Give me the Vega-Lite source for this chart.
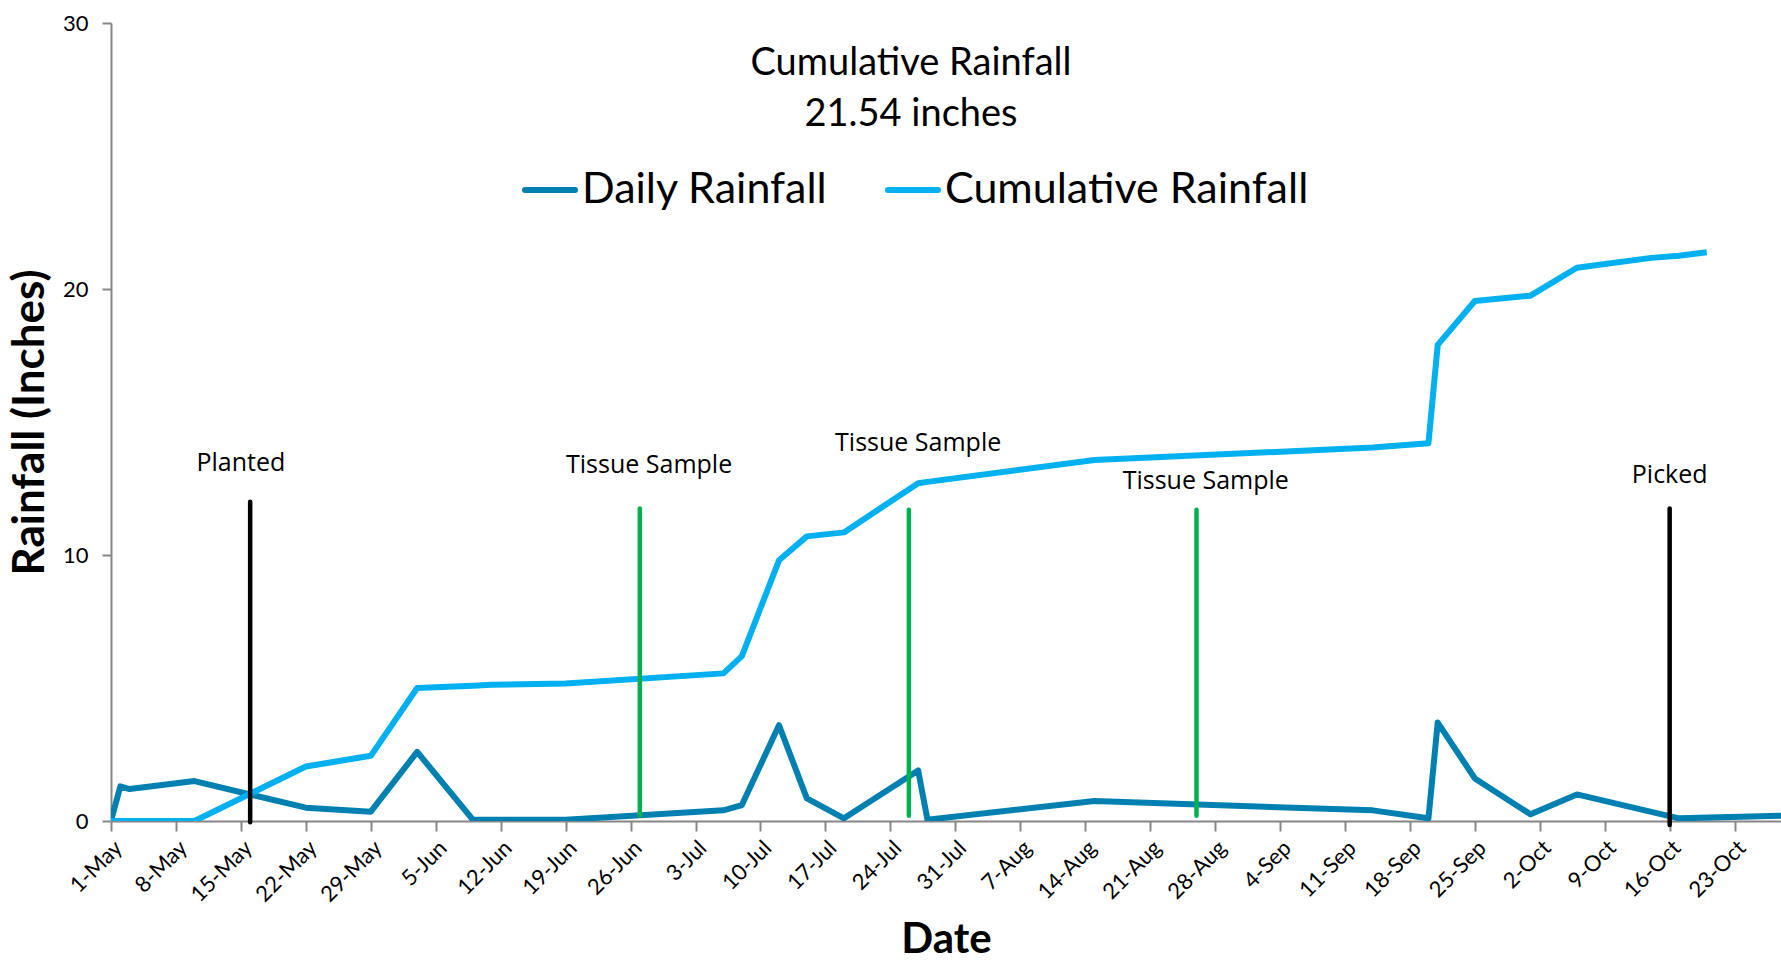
{
  "$schema": "https://vega.github.io/schema/vega-lite/v6.json",
  "width": 1670,
  "height": 798,
  "autosize": {"type": "none"},
  "padding": {"left": 111, "top": 23, "right": 0, "bottom": 146},
  "background": "white",
  "title": {
    "text": ["Cumulative Rainfall", "21.54 inches"],
    "font": "Lato",
    "fontSize": 38,
    "fontWeight": "normal",
    "color": "black",
    "anchor": "middle",
    "baseline": "top",
    "offset": 0,
    "dx": -35,
    "dy": 122,
    "lineHeight": 51
  },
  "config": {"view": {"stroke": null}, "font": "Lato"},
  "datasets": {
    "rain": [
      {"date": "2013-05-01", "series": "Daily Rainfall", "inches": 0},
      {"date": "2013-05-02", "series": "Daily Rainfall", "inches": 1.3},
      {"date": "2013-05-03", "series": "Daily Rainfall", "inches": 1.2},
      {"date": "2013-05-10", "series": "Daily Rainfall", "inches": 1.5},
      {"date": "2013-05-22", "series": "Daily Rainfall", "inches": 0.5},
      {"date": "2013-05-29", "series": "Daily Rainfall", "inches": 0.35},
      {"date": "2013-06-03", "series": "Daily Rainfall", "inches": 2.6},
      {"date": "2013-06-09", "series": "Daily Rainfall", "inches": 0.05},
      {"date": "2013-06-19", "series": "Daily Rainfall", "inches": 0.05},
      {"date": "2013-07-06", "series": "Daily Rainfall", "inches": 0.4},
      {"date": "2013-07-08", "series": "Daily Rainfall", "inches": 0.6},
      {"date": "2013-07-12", "series": "Daily Rainfall", "inches": 3.6},
      {"date": "2013-07-15", "series": "Daily Rainfall", "inches": 0.85},
      {"date": "2013-07-19", "series": "Daily Rainfall", "inches": 0.1},
      {"date": "2013-07-27", "series": "Daily Rainfall", "inches": 1.9},
      {"date": "2013-07-28", "series": "Daily Rainfall", "inches": 0.05},
      {"date": "2013-08-15", "series": "Daily Rainfall", "inches": 0.75},
      {"date": "2013-09-14", "series": "Daily Rainfall", "inches": 0.4},
      {"date": "2013-09-20", "series": "Daily Rainfall", "inches": 0.1},
      {"date": "2013-09-21", "series": "Daily Rainfall", "inches": 3.7},
      {"date": "2013-09-25", "series": "Daily Rainfall", "inches": 1.6},
      {"date": "2013-10-01", "series": "Daily Rainfall", "inches": 0.25},
      {"date": "2013-10-06", "series": "Daily Rainfall", "inches": 1.0},
      {"date": "2013-10-17", "series": "Daily Rainfall", "inches": 0.1},
      {"date": "2013-10-28", "series": "Daily Rainfall", "inches": 0.2},
      {"date": "2013-05-01", "series": "Cumulative Rainfall", "inches": 0},
      {"date": "2013-05-10", "series": "Cumulative Rainfall", "inches": 0},
      {"date": "2013-05-22", "series": "Cumulative Rainfall", "inches": 2.05},
      {"date": "2013-05-29", "series": "Cumulative Rainfall", "inches": 2.45},
      {"date": "2013-06-03", "series": "Cumulative Rainfall", "inches": 5.0},
      {"date": "2013-06-09", "series": "Cumulative Rainfall", "inches": 5.08},
      {"date": "2013-06-11", "series": "Cumulative Rainfall", "inches": 5.12},
      {"date": "2013-06-19", "series": "Cumulative Rainfall", "inches": 5.17},
      {"date": "2013-07-06", "series": "Cumulative Rainfall", "inches": 5.55},
      {"date": "2013-07-08", "series": "Cumulative Rainfall", "inches": 6.2},
      {"date": "2013-07-12", "series": "Cumulative Rainfall", "inches": 9.8},
      {"date": "2013-07-15", "series": "Cumulative Rainfall", "inches": 10.7},
      {"date": "2013-07-19", "series": "Cumulative Rainfall", "inches": 10.85},
      {"date": "2013-07-27", "series": "Cumulative Rainfall", "inches": 12.7},
      {"date": "2013-07-28", "series": "Cumulative Rainfall", "inches": 12.75},
      {"date": "2013-08-15", "series": "Cumulative Rainfall", "inches": 13.57},
      {"date": "2013-09-14", "series": "Cumulative Rainfall", "inches": 14.04},
      {"date": "2013-09-20", "series": "Cumulative Rainfall", "inches": 14.2},
      {"date": "2013-09-21", "series": "Cumulative Rainfall", "inches": 17.9},
      {"date": "2013-09-25", "series": "Cumulative Rainfall", "inches": 19.55},
      {"date": "2013-10-01", "series": "Cumulative Rainfall", "inches": 19.75},
      {"date": "2013-10-06", "series": "Cumulative Rainfall", "inches": 20.8},
      {"date": "2013-10-14", "series": "Cumulative Rainfall", "inches": 21.17},
      {"date": "2013-10-17", "series": "Cumulative Rainfall", "inches": 21.25},
      {"date": "2013-10-20", "series": "Cumulative Rainfall", "inches": 21.38}
    ],
    "events": [
      {"event": "Planted", "label": "Planted", "date": "2013-05-16", "bottom": -0.05, "top": 12.0, "labelDate": "2013-05-15", "labelY": 13.45},
      {"event": "Tissue Sample", "label": "Tissue Sample", "date": "2013-06-27", "bottom": 0.2, "top": 11.75, "labelDate": "2013-06-28", "labelY": 13.4},
      {"event": "Tissue Sample", "label": "Tissue Sample", "date": "2013-07-26", "bottom": 0.2, "top": 11.7, "labelDate": "2013-07-27", "labelY": 14.2},
      {"event": "Tissue Sample", "label": "Tissue Sample", "date": "2013-08-26", "bottom": 0.2, "top": 11.7, "labelDate": "2013-08-27", "labelY": 12.8},
      {"event": "Picked", "label": "Picked", "date": "2013-10-16", "bottom": -0.15, "top": 11.75, "labelDate": "2013-10-16", "labelY": 13.0}
    ]
  },
  "layer": [
    {
      "data": {"name": "rain"},
      "mark": {"type": "line", "strokeWidth": 6, "strokeJoin": "round", "clip": true},
      "encoding": {
        "x": {
          "field": "date",
          "type": "temporal",
          "scale": {
            "type": "utc",
            "domain": [
              {"year": 2013, "month": 5, "date": 1, "utc": true},
              {"year": 2013, "month": 10, "date": 28, "utc": true}
            ]
          },
          "axis": {
            "title": "Date",
            "titleFont": "Lato",
            "titleFontSize": 42,
            "titleFontWeight": "bold",
            "titleColor": "black",
            "titlePadding": 14,
            "labelExpr": "utcFormat(datum.value, '%-d-%b')",
            "labelAngle": -45,
            "labelFont": "Lato",
            "labelFontSize": 22,
            "labelColor": "black",
            "labelPadding": 6,
            "labelOverlap": false,
            "domainColor": "#868686",
            "domainWidth": 2,
            "tickColor": "#868686",
            "tickWidth": 2,
            "tickSize": 10,
            "grid": false,
            "values": [
              {"year": 2013, "month": 5, "date": 1, "utc": true},
              {"year": 2013, "month": 5, "date": 8, "utc": true},
              {"year": 2013, "month": 5, "date": 15, "utc": true},
              {"year": 2013, "month": 5, "date": 22, "utc": true},
              {"year": 2013, "month": 5, "date": 29, "utc": true},
              {"year": 2013, "month": 6, "date": 5, "utc": true},
              {"year": 2013, "month": 6, "date": 12, "utc": true},
              {"year": 2013, "month": 6, "date": 19, "utc": true},
              {"year": 2013, "month": 6, "date": 26, "utc": true},
              {"year": 2013, "month": 7, "date": 3, "utc": true},
              {"year": 2013, "month": 7, "date": 10, "utc": true},
              {"year": 2013, "month": 7, "date": 17, "utc": true},
              {"year": 2013, "month": 7, "date": 24, "utc": true},
              {"year": 2013, "month": 7, "date": 31, "utc": true},
              {"year": 2013, "month": 8, "date": 7, "utc": true},
              {"year": 2013, "month": 8, "date": 14, "utc": true},
              {"year": 2013, "month": 8, "date": 21, "utc": true},
              {"year": 2013, "month": 8, "date": 28, "utc": true},
              {"year": 2013, "month": 9, "date": 4, "utc": true},
              {"year": 2013, "month": 9, "date": 11, "utc": true},
              {"year": 2013, "month": 9, "date": 18, "utc": true},
              {"year": 2013, "month": 9, "date": 25, "utc": true},
              {"year": 2013, "month": 10, "date": 2, "utc": true},
              {"year": 2013, "month": 10, "date": 9, "utc": true},
              {"year": 2013, "month": 10, "date": 16, "utc": true},
              {"year": 2013, "month": 10, "date": 23, "utc": true}
            ]
          }
        },
        "y": {
          "field": "inches",
          "type": "quantitative",
          "scale": {"domain": [0, 30]},
          "axis": {
            "title": "Rainfall (Inches)",
            "titleFont": "Lato",
            "titleFontSize": 44,
            "titleFontWeight": "bold",
            "titleColor": "black",
            "titlePadding": 10,
            "values": [0, 10, 20, 30],
            "labelFont": "Lato",
            "labelFontSize": 22,
            "labelColor": "black",
            "labelPadding": 14,
            "domainColor": "#868686",
            "domainWidth": 2,
            "tickColor": "#868686",
            "tickWidth": 2,
            "tickSize": 9,
            "grid": false
          }
        },
        "color": {
          "field": "series",
          "type": "nominal",
          "sort": ["Daily Rainfall", "Cumulative Rainfall"],
          "scale": {
            "domain": ["Daily Rainfall", "Cumulative Rainfall"],
            "range": ["#0080B0", "#00B0F0"]
          },
          "legend": {
            "orient": "none",
            "legendX": 411,
            "legendY": 139,
            "direction": "horizontal",
            "title": null,
            "symbolType": "stroke",
            "symbolStrokeWidth": 6,
            "symbolSize": 2500,
            "labelFont": "Lato",
            "labelFontSize": 43,
            "labelColor": "black",
            "labelOffset": 4,
            "labelLimit": 0,
            "columnPadding": 48,
            "padding": 0,
            "encode": {"symbols": {"update": {"strokeCap": {"value": "round"}}}}
          }
        }
      }
    },
    {
      "data": {"name": "events"},
      "mark": {"type": "rule", "strokeWidth": 4.5, "strokeCap": "round"},
      "encoding": {
        "x": {"field": "date", "type": "temporal"},
        "y": {"field": "bottom", "type": "quantitative"},
        "y2": {"field": "top"},
        "color": {
          "field": "event",
          "type": "nominal",
          "scale": {"domain": ["Planted", "Tissue Sample", "Picked"], "range": ["#000000", "#00B050", "#000000"]},
          "legend": null
        }
      }
    },
    {
      "data": {"name": "events"},
      "mark": {"type": "text", "font": "Open Sans", "fontSize": 25, "color": "black", "baseline": "middle", "align": "center"},
      "encoding": {
        "x": {"field": "labelDate", "type": "temporal"},
        "y": {"field": "labelY", "type": "quantitative"},
        "text": {"field": "label"}
      }
    }
  ],
  "resolve": {"scale": {"color": "independent"}}
}
